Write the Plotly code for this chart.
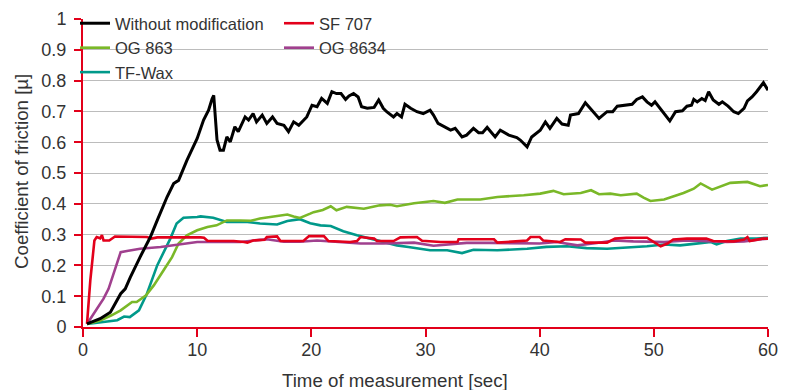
import plotly.graph_objects as go

# ---- data ----
black_t = [0.35,1.5,2.4,3.3,3.7,4.15,5.0,5.9,6.5,7.36,
           7.94,8.37,9.1,10.0,10.56,11.0,11.3,11.45,11.74,12.0,
           12.3,12.6,12.9,13.3,13.6,14.2,14.5,14.9,15.2,15.7,
           16.1,16.6,17.0,17.6,18.0,18.45,18.9,19.6,20.06,20.5,
           20.9,21.4,21.8,22.2,22.6,23.0,23.3,23.7,24.1,24.4,
           24.9,25.5,25.9,26.3,26.6,27.2,27.5,27.9,28.2,28.7,
           29.25,29.8,30.4,30.7,31.1,31.7,32.2,32.6,33.2,33.6,
           34.2,34.65,35.0,35.4,36.1,36.55,37.3,38.0,38.3,38.9,
           39.3,40.05,40.5,40.9,41.5,41.96,42.5,42.7,43.4,44.0,
           44.4,45.2,45.9,46.4,46.8,47.6,48.1,48.5,49.0,49.4,
           49.8,50.1,50.7,51.4,51.9,52.5,52.9,53.3,53.5,53.8,
           54.2,54.5,54.8,55.2,55.7,56.0,56.5,57.0,57.4,57.9,
           58.2,58.6,59.0,59.6,60.0]
black_mu = [0.01,0.027,0.048,0.108,0.124,0.162,0.227,0.292,0.346,0.422,
            0.466,0.476,0.541,0.612,0.672,0.704,0.740,0.752,0.607,0.574,
            0.574,0.617,0.601,0.650,0.634,0.682,0.672,0.693,0.666,0.688,
            0.661,0.682,0.661,0.655,0.634,0.666,0.655,0.682,0.720,0.715,
            0.742,0.726,0.764,0.758,0.758,0.739,0.750,0.758,0.747,0.715,
            0.710,0.713,0.737,0.710,0.699,0.682,0.693,0.682,0.723,0.710,
            0.699,0.693,0.704,0.688,0.661,0.650,0.639,0.645,0.617,0.623,
            0.645,0.631,0.631,0.648,0.617,0.639,0.623,0.615,0.607,0.585,
            0.617,0.639,0.666,0.645,0.677,0.659,0.655,0.688,0.693,0.728,
            0.710,0.677,0.699,0.699,0.717,0.720,0.723,0.739,0.747,0.731,
            0.720,0.731,0.704,0.669,0.699,0.702,0.717,0.720,0.739,0.731,
            0.742,0.735,0.764,0.737,0.723,0.731,0.717,0.699,0.693,0.710,
            0.734,0.747,0.764,0.793,0.769]

green_t = [0.35,1.5,2.5,3.3,4.3,4.7,5.5,6.2,7.06,7.8,
           8.37,9.1,10.0,10.9,11.7,12.6,13.8,14.7,15.5,16.5,
           17.6,17.9,18.45,19.0,19.9,20.2,21.0,21.7,22.2,23.1,
           24.6,26.0,26.9,27.5,29.0,30.4,30.7,31.7,32.8,34.8,
           36.3,38.6,40.05,41.2,42.1,43.6,44.5,45.2,46.2,47.1,
           48.5,49.1,49.7,50.9,51.7,52.6,53.5,54.1,55.1,55.8,
           56.7,58.2,59.3,60.0]
green_mu = [0.01,0.021,0.038,0.054,0.081,0.081,0.102,0.135,0.184,0.227,
            0.271,0.298,0.314,0.325,0.330,0.346,0.346,0.345,0.352,0.357,
            0.363,0.365,0.359,0.354,0.368,0.373,0.380,0.392,0.379,0.390,
            0.384,0.395,0.397,0.392,0.402,0.409,0.409,0.403,0.414,0.414,
            0.422,0.428,0.433,0.442,0.431,0.435,0.444,0.431,0.433,0.428,
            0.433,0.420,0.409,0.414,0.424,0.435,0.449,0.466,0.446,0.455,
            0.468,0.471,0.457,0.461]

teal_t = [0.35,2.1,3.0,3.6,4.1,4.9,5.6,6.5,7.2,7.65,
          8.2,8.8,10.0,10.3,11.4,12.6,13.2,14.4,15.5,17.0,
          17.9,19.0,19.9,20.8,21.7,22.8,24.0,25.2,26.3,27.5,
          28.5,29.5,30.4,31.9,33.2,34.2,36.3,38.9,40.6,42.4,
          44.1,45.9,47.6,49.4,50.9,52.3,53.5,55.0,55.5,56.4,
          57.6,59.0,60.0]
teal_mu = [0.01,0.019,0.022,0.034,0.032,0.054,0.108,0.200,0.254,0.287,
           0.336,0.355,0.357,0.359,0.355,0.341,0.341,0.341,0.336,0.333,
           0.344,0.350,0.337,0.330,0.328,0.311,0.298,0.287,0.276,0.265,
           0.260,0.254,0.249,0.249,0.240,0.251,0.249,0.254,0.260,0.262,
           0.256,0.254,0.257,0.262,0.268,0.265,0.270,0.276,0.268,0.279,
           0.287,0.287,0.290]

red_t = [0.35,0.64,1.0,1.2,1.5,1.66,1.8,2.3,2.8,4.7,
         5.6,6.0,6.5,10.3,10.6,10.9,13.2,14.1,14.4,14.9,
         15.9,16.1,17.0,17.3,19.3,19.8,21.1,21.5,23.4,24.0,
         24.3,25.5,25.75,27.2,27.8,29.25,29.7,31.3,32.8,32.9,
         36.0,36.3,37.1,38.9,39.2,40.0,40.3,41.8,42.25,43.6,
         44.0,45.9,46.6,47.6,49.4,50.0,50.6,51.2,51.7,52.9,
         54.6,55.2,57.0,57.9,58.2,58.4,59.0,59.5,60.0]
red_mu = [0.01,0.151,0.281,0.292,0.288,0.298,0.281,0.281,0.294,0.294,
          0.292,0.287,0.291,0.291,0.290,0.280,0.279,0.276,0.274,0.281,
          0.283,0.292,0.294,0.279,0.279,0.295,0.295,0.279,0.276,0.279,
          0.292,0.287,0.279,0.279,0.291,0.292,0.280,0.276,0.276,0.285,
          0.285,0.274,0.276,0.281,0.292,0.292,0.281,0.276,0.285,0.284,
          0.274,0.274,0.287,0.290,0.290,0.276,0.262,0.271,0.284,0.287,
          0.287,0.279,0.278,0.284,0.292,0.279,0.284,0.287,0.287]

purple_t = [0.35,1.2,1.8,2.24,2.7,3.3,3.85,5.0,6.8,8.5,
            10.0,12.0,13.8,15.5,16.1,17.6,19.0,20.5,22.2,24.3,
            26.3,29.0,30.7,31.9,33.6,35.7,40.0,41.5,43.3,45.0,
            46.5,48.2,49.7,50.9,52.9,54.6,56.4,57.9,60.0]
purple_mu = [0.01,0.059,0.092,0.124,0.173,0.243,0.247,0.254,0.260,0.268,
             0.276,0.276,0.276,0.283,0.285,0.277,0.277,0.281,0.276,0.271,
             0.271,0.274,0.264,0.268,0.273,0.273,0.271,0.276,0.265,0.273,
             0.281,0.278,0.276,0.276,0.281,0.278,0.276,0.278,0.287]

x_ticks = [0, 10, 20, 30, 40, 50, 60]
y_ticks = [0, 0.1, 0.2, 0.3, 0.4, 0.5, 0.6, 0.7, 0.8, 0.9, 1]
y_tick_text = ["0", "0.1", "0.2", "0.3", "0.4", "0.5", "0.6", "0.7", "0.8", "0.9", "1"]

FONT = "Liberation Sans, Arial, sans-serif"
TXT = "#333333"
RED_AXIS = "#e2001a"

series = [
    # name, t, mu, color, legend, rank
    ("TF-Wax", teal_t, teal_mu, "#00998a", "legend", 3),
    ("OG 863", green_t, green_mu, "#7ab828", "legend", 2),
    ("OG 8634", purple_t, purple_mu, "#a0408e", "legend2", 2),
    ("SF 707", red_t, red_mu, "#e3001b", "legend2", 1),
    ("Without modification", black_t, black_mu, "#000000", "legend", 1),
]

fig = go.Figure()
for name, t, mu, col, leg, rank in series:
    fig.add_trace(go.Scatter(
        x=t, y=mu, mode="lines", name=name,
        line=dict(color=col, width=3 if col == "#000000" else 2.6),
        legend=leg, legendrank=rank,
    ))

W, H = 787, 390
ml, mr, mt, mb = 83, 19, 19, 63
pw = W - ml - mr
ph = H - mt - mb

def px_x(p):
    return (p - ml) / pw

def px_y(p):
    return 1 - (p - mt) / ph

LEG_TOP = 6  # px from the top of the page
fig.update_layout(
    width=W, height=H,
    margin=dict(l=ml, r=mr, t=mt, b=mb, autoexpand=False),
    paper_bgcolor="white", plot_bgcolor="white",
    font=dict(family=FONT, color=TXT, size=18),
    legend=dict(
        x=px_x(75), y=1 - LEG_TOP / H, yref="container",
        xanchor="left", yanchor="top",
        bgcolor="rgba(0,0,0,0)", font=dict(size=16.5, color=TXT),
        itemwidth=30, traceorder="normal", tracegroupgap=0,
    ),
    legend2=dict(
        x=px_x(279), y=1 - LEG_TOP / H, yref="container",
        xanchor="left", yanchor="top",
        bgcolor="rgba(0,0,0,0)", font=dict(size=16.5, color=TXT),
        itemwidth=30, traceorder="normal", tracegroupgap=0,
    ),
    shapes=[dict(
        type="rect", xref="paper", yref="paper",
        x0=px_x(84), x1=px_x(406), y0=px_y(92), y1=px_y(5),
        fillcolor="white", line=dict(width=0), layer="between",
    )],
    annotations=[
        dict(text="Time of measurement [sec]", xref="paper", yref="paper",
             x=px_x(395), y=px_y(380), xanchor="center", yanchor="middle",
             showarrow=False, font=dict(size=18.7, color=TXT)),
        dict(text="Coefficient of friction [µ]", xref="paper", yref="paper",
             x=px_x(21), y=px_y(172), xanchor="center", yanchor="middle",
             textangle=-90, showarrow=False, font=dict(size=18.7, color=TXT)),
    ],
)

fig.update_xaxes(
    range=[0, 60], tickvals=x_ticks, showgrid=False, zeroline=False,
    showline=True, linecolor=RED_AXIS, linewidth=2,
    ticks="outside", ticklen=8, tickwidth=2, tickcolor=RED_AXIS,
    tickfont=dict(size=18, color=TXT), ticklabelstandoff=-3,
)
fig.update_yaxes(
    range=[0, 1], tickvals=y_ticks, ticktext=y_tick_text,
    showgrid=True, gridcolor="#bcbcbc", gridwidth=1, zeroline=False,
    showline=True, linecolor=RED_AXIS, linewidth=2,
    ticks="outside", ticklen=7, tickwidth=2, tickcolor=RED_AXIS,
    tickfont=dict(size=18, color=TXT), ticklabelstandoff=4,
)

fig.write_html("out.html")
